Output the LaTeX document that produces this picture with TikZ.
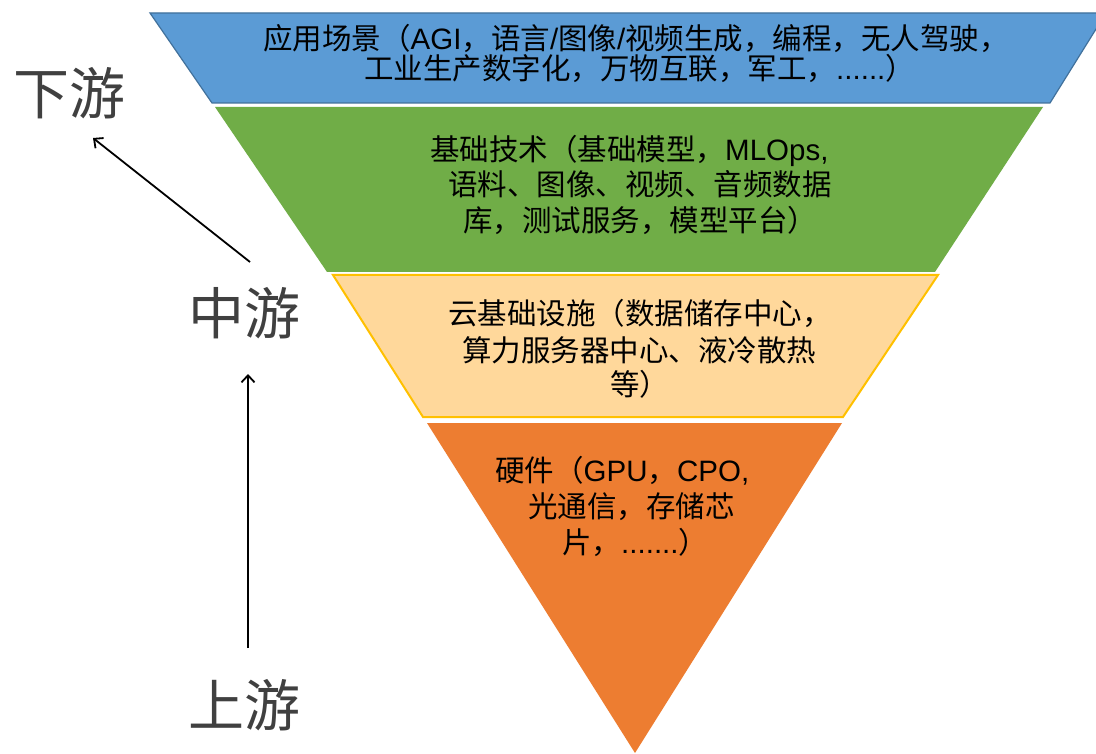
\documentclass[tikz,border=0pt]{standalone}
\usepackage{fontspec}
\newfontfamily\cjk{Noto Sans CJK SC}
\newfontfamily\lat{Liberation Sans}
\usetikzlibrary{arrows.meta}
\definecolor{cblue}{HTML}{5B9BD5}
\definecolor{cblueline}{HTML}{41719C}
\definecolor{cgreen}{HTML}{70AD47}
\definecolor{cpeach}{RGB}{255,216,155}
\definecolor{cgold}{HTML}{FFC000}
\definecolor{corange}{HTML}{ED7D31}
\definecolor{labgray}{HTML}{404040}
\begin{document}
\begin{tikzpicture}[x=1pt,y=-1pt,line join=miter,
  txt/.style={anchor=base west,inner sep=0pt,font=\cjk\fontsize{29.5}{35}\selectfont,text=black},
  side/.style={inner sep=0pt,font=\cjk\fontsize{56}{62}\selectfont,text=labgray},
  arr/.style={-{Straight Barb[length=7pt,width=13pt]},line width=1.8pt,black}]
\useasboundingbox (0,0) rectangle (1096,754);
\fill[white] (0,0) rectangle (1096,754);
\begin{scope}
\clip (0,0) rectangle (1096,754);
\path[fill=cblue,draw=cblueline,line width=1.2pt] (150,13) -- (1106,13) -- (1050,103) -- (212,103) -- cycle;
\end{scope}
\path[fill=cgreen] (215,107) -- (1043,107) -- (935,272) -- (327,272) -- cycle;
\path[fill=cpeach,draw=cgold,line width=2pt] (333,275) -- (938,275) -- (843,417) -- (423,417) -- cycle;
\path[fill=corange] (427,423) -- (842,423) -- (635,753) -- cycle;
% band texts
\node[txt] (b1) at (263,50) {应用场景（{\lat AGI}，语言{\lat /}图像{\lat /}视频生成，编程，无人驾驶，};
\node[txt] (b2) at (364,80) {工业生产数字化，万物互联，军工，{\lat ......}）};
\node[txt] (g1) at (430,161) {基础技术（基础模型，{\lat MLOps,}};
\node[txt] (g2) at (448,196) {语料、图像、视频、音频数据};
\node[txt] (g3) at (463,232) {库，测试服务，模型平台）};
\node[txt] (l1) at (448,324) {云基础设施（数据储存中心，};
\node[txt] (l2) at (462,361) {算力服务器中心、液冷散热};
\node[txt] (l3) at (610,395) {等）};
\node[txt] (o1) at (495,481) {硬件（{\lat GPU}，{\lat CPO,}};
\node[txt] (o2) at (528,517) {光通信，存储芯};
\node[txt] (o3) at (562,553) {片，{\lat .......}）};
% side labels
\node[side] (xia) at (69,93) {下游};
\node[side] (zhong) at (244,313) {中游};
\node[side] (shang) at (244,705) {上游};
\coordinate (a1s) at (250,262);
\coordinate (a1e) at (93,138);
\coordinate (a2s) at (248,648);
\coordinate (a2e) at (248,374);
\draw[arr] (a1s) -- (a1e);
\draw[arr] (a2s) -- (a2e);
\end{tikzpicture}
\end{document}
